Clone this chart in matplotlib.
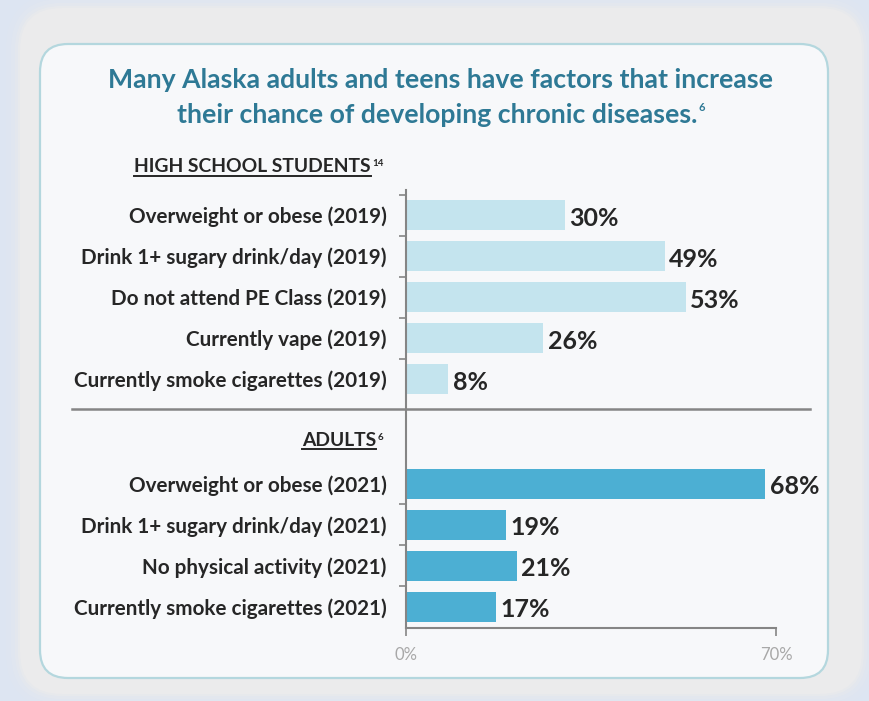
#! /usr/bin/env python3
# -*- coding: utf-8 -*-
'''
Alaska chronic disease risk factors - horizontal bar chart
'''

import numpy as np
import matplotlib
matplotlib.use('Agg')
import matplotlib.pyplot as plt
import matplotlib.transforms as mtransforms
from matplotlib.patches import FancyBboxPatch
from matplotlib.lines import Line2D

plt.rcParams['font.family'] = ['Lato', 'DejaVu Sans']

title_lines = ['Many Alaska adults and teens have factors that increase',
               'their chance of developing chronic diseases.']
title_note = '6'

student_header = 'HIGH SCHOOL STUDENTS'
student_note = '14'
student_labels = ['Overweight or obese (2019)',
                  'Drink 1+ sugary drink/day (2019)',
                  'Do not attend PE Class (2019)',
                  'Currently vape (2019)',
                  'Currently smoke cigarettes (2019)']
student_values = [30, 49, 53, 26, 8]

adult_header = 'ADULTS'
adult_note = '6'
adult_labels = ['Overweight or obese (2021)',
                'Drink 1+ sugary drink/day (2021)',
                'No physical activity (2021)',
                'Currently smoke cigarettes (2021)']
adult_values = [68, 19, 21, 17]

x_ticks = [0, 70]
x_tick_labels = ['0%', '70%']

W, H = 869, 701
TEAL = '#2e7995'
DARK = '#262626'
AXIS = '#858585'
LIGHT_BAR = '#c4e4ee'
DARK_BAR = '#4cafd3'


def main():
    fig = plt.figure(figsize=(W / 100, H / 100), dpi=100)
    fig.patch.set_facecolor('#dde5f2')

    # background panels, in pixel coordinates
    bg = fig.add_axes([0, 0, 1, 1])
    bg.set_xlim(0, W)
    bg.set_ylim(H, 0)
    bg.axis('off')
    for pad, a in [(14, 0.12), (9, 0.2), (5, 0.35), (2, 0.6), (0, 1.0)]:
        bg.add_patch(FancyBboxPatch(
            (20 - pad, 8 - pad), 842 + 2 * pad, 686 + 2 * pad,
            boxstyle='round,pad=0,rounding_size=%d' % (42 + pad),
            fc='#ebebec', ec='none', alpha=a))
    bg.add_patch(FancyBboxPatch(
        (40, 44), 788, 634, boxstyle='round,pad=0,rounding_size=28',
        fc='#f7f8fa', ec='#b4d7de', lw=1.6))

    # title
    bg.text(440, 80, title_lines[0], ha='center', va='center',
            fontsize=19.2, fontweight='bold', color=TEAL)
    t2 = bg.text(437, 115, title_lines[1], ha='center', va='center',
                 fontsize=19.2, fontweight='bold', color=TEAL)

    # bars
    ax = fig.add_axes([406 / W, 1 - 628 / H, 370 / W, 438 / H])
    ax.patch.set_alpha(0)
    step = 41.0
    y_students = np.arange(len(student_values))
    y_adults = np.arange(len(adult_values)) + 6.55
    bh = 30 / step
    ax.barh(y_students, student_values, height=bh, color=LIGHT_BAR)
    ax.barh(y_adults, adult_values, height=bh, color=DARK_BAR)
    for y, v in zip(list(y_students) + list(y_adults),
                    student_values + adult_values):
        ax.text(v + 0.8, y + 0.08, '%d%%' % v, va='center', ha='left',
                fontsize=18, fontweight='bold', color=DARK)

    ax.set_xlim(0, 70)
    ax.set_ylim((628 - 215) / step, (190 - 215) / step)

    ax.set_yticks(list(y_students) + list(y_adults))
    ax.set_yticklabels(student_labels + adult_labels, fontsize=14.9,
                       fontweight='bold', color=DARK)
    ax.tick_params(axis='y', which='major', length=0, pad=14)
    bounds = list(y_students - 0.5) + list(y_adults[1:] - 0.5)
    ax.set_yticks(bounds, minor=True)
    ax.tick_params(axis='y', which='minor', length=5, width=1.2,
                   color=AXIS, direction='out')

    ax.set_xticks(x_ticks)
    ax.set_xticklabels(x_tick_labels, fontsize=12, color='#a8a8a8')
    ax.tick_params(axis='x', length=6, width=1.2, color=AXIS, pad=8)

    for s in ['top', 'right']:
        ax.spines[s].set_visible(False)
    for s in ['left', 'bottom']:
        ax.spines[s].set_color(AXIS)
        ax.spines[s].set_linewidth(1.5)

    # divider between the groups
    trans = mtransforms.blended_transform_factory(bg.transData, ax.transData)
    div_y = (409 - 215) / step
    fig.add_artist(Line2D([72, 810], [div_y, div_y], transform=trans,
                          color=AXIS, lw=1.8))

    # section headers, underlined
    h1 = ax.text(-6.6, (167 - 215) / step, student_header, ha='right',
                 va='center', fontsize=13.9, fontweight='bold', color=DARK)
    h2 = ax.text(-5.6, (440 - 215) / step, adult_header, ha='right',
                 va='center', fontsize=13.9, fontweight='bold', color=DARK)

    fig.canvas.draw()
    r = fig.canvas.get_renderer()
    inv = bg.transData.inverted()
    for h, note in [(h1, student_note), (h2, adult_note)]:
        bb = h.get_window_extent(r)
        (x0, y0), (x1, y1) = inv.transform([(bb.x0, bb.y0), (bb.x1, bb.y1)])
        bg.plot([x0, x1], [y0 + 0.5, y0 + 0.5], color=DARK, lw=1.4)
        bg.text(x1 + 1, y1 + 1, note, ha='left', va='top', fontsize=7,
                fontweight='bold', color=DARK)
    bb = t2.get_window_extent(r)
    (x0, y0), (x1, y1) = inv.transform([(bb.x0, bb.y0), (bb.x1, bb.y1)])
    bg.text(x1 + 1, y1 - 1, title_note, ha='left', va='top', fontsize=8,
            fontweight='bold', color=TEAL)

    fig.savefig('out.png', dpi=100, facecolor=fig.get_facecolor())


if __name__ == '__main__':
    main()
